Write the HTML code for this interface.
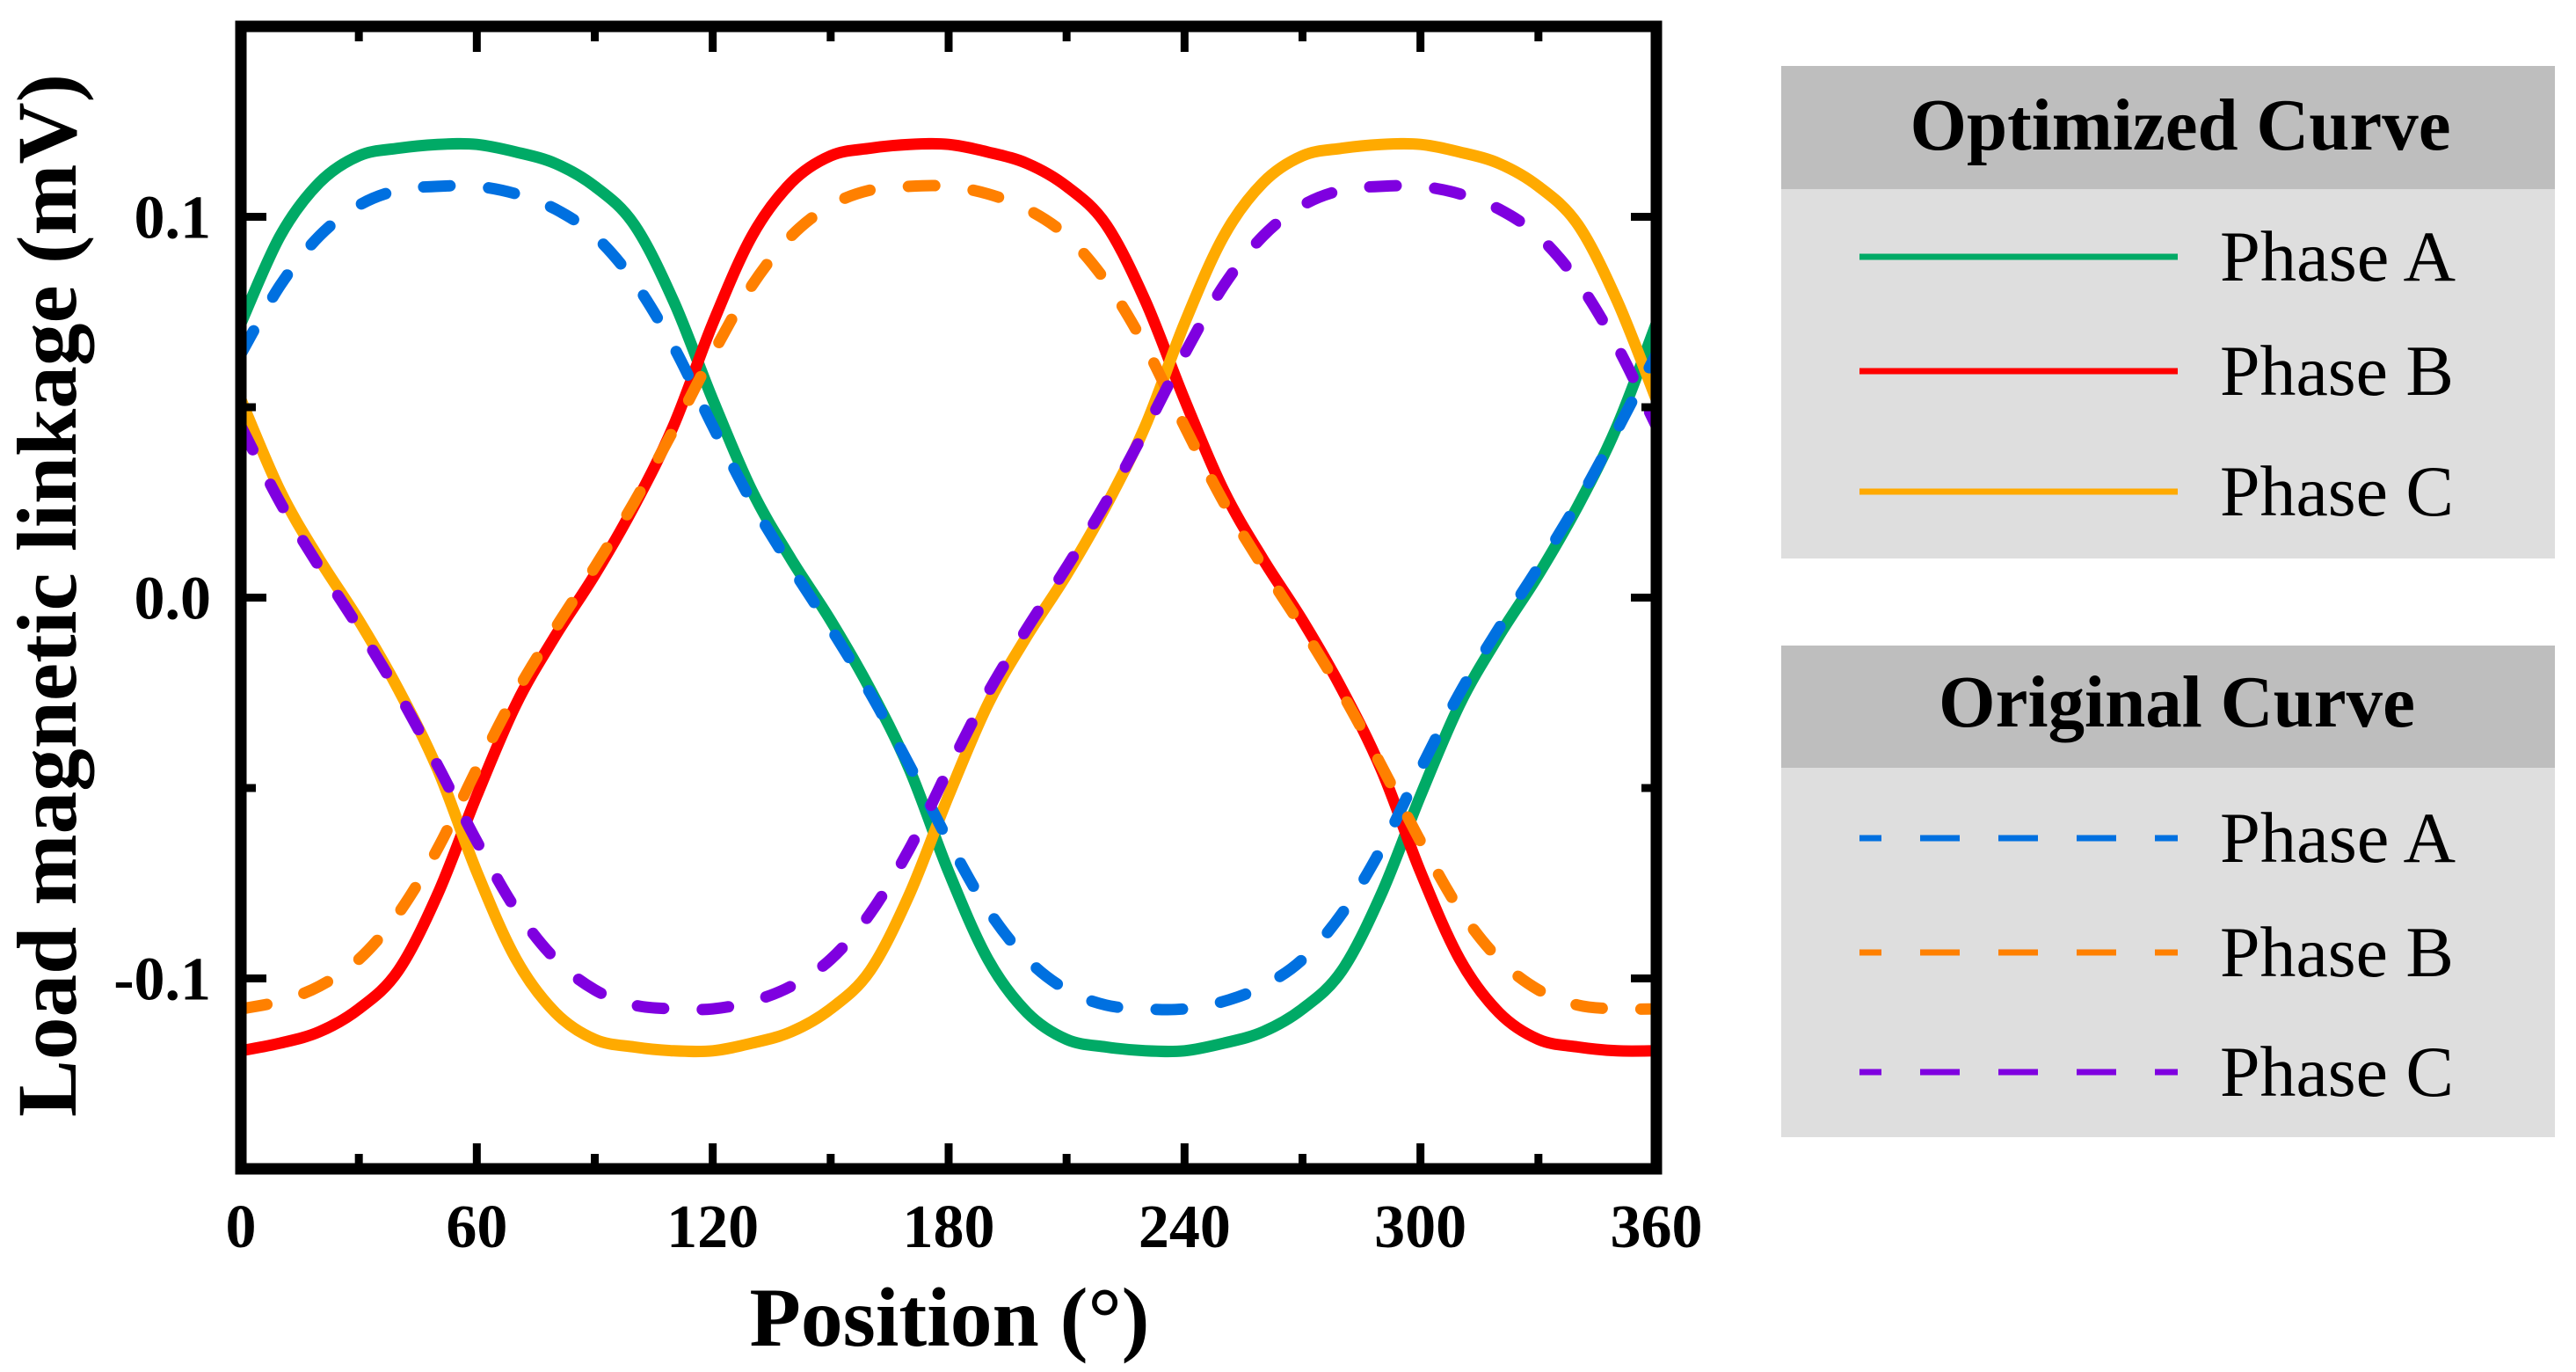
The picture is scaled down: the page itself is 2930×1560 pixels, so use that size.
<!DOCTYPE html>
<html><head><meta charset="utf-8"><style>
html,body{margin:0;padding:0;background:#fff}
svg{display:block}
text{font-family:"Liberation Serif","Times New Roman",serif}
</style></head><body>
<svg id="chart" width="2930" height="1560" viewBox="0 0 2930 1560" xmlns="http://www.w3.org/2000/svg">
<defs><clipPath id="clip"><rect x="274" y="30" width="1610" height="1299"/></clipPath></defs>
<g id="series" clip-path="url(#clip)"></g>
<g id="axes"></g>
<text x="1080" y="1530" font-size="95" font-weight="bold" text-anchor="middle" textLength="455" lengthAdjust="spacingAndGlyphs">Position (°)</text>
<text transform="translate(86,677) rotate(-90)" font-size="96" font-weight="bold" text-anchor="middle" textLength="1186" lengthAdjust="spacingAndGlyphs">Load magnetic linkage (mV)</text>

<g>
<rect x="2026" y="75" width="880" height="140" fill="#bebebe"/>
<rect x="2026" y="215" width="880" height="420" fill="#dedede"/>
<text x="2480" y="170" font-size="84" font-weight="bold" text-anchor="middle" textLength="615" lengthAdjust="spacingAndGlyphs">Optimized Curve</text>
<g><line x1="2115" x2="2477" y1="292" y2="292" stroke="#00aa66" stroke-width="7"/><text x="2525" y="319" font-size="82" textLength="268" lengthAdjust="spacingAndGlyphs">Phase A</text></g>
<g><line x1="2115" x2="2477" y1="422" y2="422" stroke="#ff0000" stroke-width="7"/><text x="2525" y="449" font-size="82" textLength="266" lengthAdjust="spacingAndGlyphs">Phase B</text></g>
<g><line x1="2115" x2="2477" y1="559" y2="559" stroke="#ffaa00" stroke-width="7"/><text x="2525" y="586" font-size="82" textLength="266" lengthAdjust="spacingAndGlyphs">Phase C</text></g>
</g>
<g>
<rect x="2026" y="734" width="880" height="139" fill="#bebebe"/>
<rect x="2026" y="873" width="880" height="420" fill="#dedede"/>
<text x="2476" y="826" font-size="84" font-weight="bold" text-anchor="middle" textLength="542" lengthAdjust="spacingAndGlyphs">Original Curve</text>
<g><line x1="2115" x2="2477" y1="953" y2="953" stroke="#0070e0" stroke-width="7" stroke-dasharray="25 44 45 44 45 44 45 44 45"/><text x="2525" y="980" font-size="82" textLength="268" lengthAdjust="spacingAndGlyphs">Phase A</text></g>
<g><line x1="2115" x2="2477" y1="1083" y2="1083" stroke="#ff8000" stroke-width="7" stroke-dasharray="25 44 45 44 45 44 45 44 45"/><text x="2525" y="1110" font-size="82" textLength="266" lengthAdjust="spacingAndGlyphs">Phase B</text></g>
<g><line x1="2115" x2="2477" y1="1219" y2="1219" stroke="#7f00e0" stroke-width="7" stroke-dasharray="25 44 45 44 45 44 45 44 45"/><text x="2525" y="1246" font-size="82" textLength="266" lengthAdjust="spacingAndGlyphs">Phase C</text></g>
</g>
</svg>
<script>
const positions = [0,10,20,30,40,50,60,70,80,90,100,110,120,130,140,150,160,170,180,190,200,210,220,230,240,250,260,270,280,290,300,310,320,330,340,350,360];
const optA = [0.072,0.095,0.109,0.116,0.118,0.119,0.119,0.117,0.114,0.108,0.098,0.078,0.052,0.028,0.010,-0.006,-0.024,-0.045,-0.072,-0.095,-0.109,-0.116,-0.118,-0.119,-0.119,-0.117,-0.114,-0.108,-0.098,-0.078,-0.052,-0.028,-0.010,0.006,0.024,0.045,0.072];
const optB = [-0.119,-0.117,-0.114,-0.108,-0.098,-0.078,-0.052,-0.028,-0.010,0.006,0.024,0.045,0.072,0.095,0.109,0.116,0.118,0.119,0.119,0.117,0.114,0.108,0.098,0.078,0.052,0.028,0.010,-0.006,-0.024,-0.045,-0.072,-0.095,-0.109,-0.116,-0.118,-0.119,-0.119];
const optC = [0.052,0.028,0.010,-0.006,-0.024,-0.045,-0.072,-0.095,-0.109,-0.116,-0.118,-0.119,-0.119,-0.117,-0.114,-0.108,-0.098,-0.078,-0.052,-0.028,-0.010,0.006,0.024,0.045,0.072,0.095,0.109,0.116,0.118,0.119,0.119,0.117,0.114,0.108,0.098,0.078,0.052];
const origA = [0.064,0.082,0.095,0.103,0.107,0.108,0.108,0.106,0.102,0.095,0.083,0.066,0.045,0.025,0.008,-0.008,-0.025,-0.044,-0.064,-0.082,-0.095,-0.103,-0.107,-0.108,-0.108,-0.106,-0.102,-0.095,-0.083,-0.066,-0.045,-0.025,-0.008,0.008,0.025,0.044,0.064];
const origB = [-0.108,-0.106,-0.102,-0.095,-0.083,-0.066,-0.045,-0.025,-0.008,0.008,0.025,0.044,0.064,0.082,0.095,0.103,0.107,0.108,0.108,0.106,0.102,0.095,0.083,0.066,0.045,0.025,0.008,-0.008,-0.025,-0.044,-0.064,-0.082,-0.095,-0.103,-0.107,-0.108,-0.108];
const origC = [0.045,0.025,0.008,-0.008,-0.025,-0.044,-0.064,-0.082,-0.095,-0.103,-0.107,-0.108,-0.108,-0.106,-0.102,-0.095,-0.083,-0.066,-0.045,-0.025,-0.008,0.008,0.025,0.044,0.064,0.082,0.095,0.103,0.107,0.108,0.108,0.106,0.102,0.095,0.083,0.066,0.045];
const xTicks = [0,60,120,180,240,300,360];
const xTickLabels = ["0","60","120","180","240","300","360"];
const xMinor = [30,90,150,210,270,330];
const yTicks = [-0.1,0,0.1];
const yTickLabels = ["-0.1","0.0","0.1"];
const yMinor = [-0.05,0.05];

const NS = "http://www.w3.org/2000/svg";
const X0=274, X1=1884, Y0=1329, Y1=30, XMIN=0, XMAX=360, YMIN=-0.15, YMAX=0.15;
function xs(v){return X0+(v-XMIN)/(XMAX-XMIN)*(X1-X0);}
function ys(v){return Y0-(v-YMIN)/(YMAX-YMIN)*(Y0-Y1);}
function mk(tag, attrs, parent){const e=document.createElementNS(NS,tag);for(const k in attrs)e.setAttribute(k,attrs[k]);parent.appendChild(e);return e;}

function pathFor(vals){
  const p = positions.map((d,i)=>[xs(d),ys(vals[i])]);
  let s = "M"+p[0][0].toFixed(1)+","+p[0][1].toFixed(1);
  for(let i=0;i<p.length-1;i++){
    const a=p[Math.max(i-1,0)], b=p[i], c=p[i+1], d=p[Math.min(i+2,p.length-1)];
    const c1=[b[0]+(c[0]-a[0])/6, b[1]+(c[1]-a[1])/6];
    const c2=[c[0]-(d[0]-b[0])/6, c[1]-(d[1]-b[1])/6];
    s+=" C"+c1[0].toFixed(1)+","+c1[1].toFixed(1)+" "+c2[0].toFixed(1)+","+c2[1].toFixed(1)+" "+c[0].toFixed(1)+","+c[1].toFixed(1);
  }
  return s;
}
const sg = document.getElementById("series");
function drawSeries(vals, color, dashed, name){
  const el = mk("path",{d:pathFor(vals),fill:"none",stroke:color,"stroke-width":13,"stroke-linecap":dashed?"round":"butt","stroke-linejoin":"round"},sg);
  if(dashed) el.setAttribute("stroke-dasharray","30 44");
  
  
}
drawSeries(optA,"#00aa66",false,"line-optimized-phase-a");
drawSeries(optB,"#ff0000",false,"line-optimized-phase-b");
drawSeries(optC,"#ffaa00",false,"line-optimized-phase-c");
drawSeries(origA,"#0070e0",true,"line-original-phase-a");
drawSeries(origB,"#ff8000",true,"line-original-phase-b");
drawSeries(origC,"#7f00e0",true,"line-original-phase-c");

const ax = document.getElementById("axes");
const frame = mk("rect",{x:X0,y:Y1,width:X1-X0,height:Y0-Y1,fill:"none",stroke:"#000","stroke-width":13},ax);


function tickX(v,len){
  const x=xs(v);
  mk("line",{x1:x,x2:x,y1:Y0,y2:Y0-len,stroke:"#000","stroke-width":9},ax);
  mk("line",{x1:x,x2:x,y1:Y1,y2:Y1+len,stroke:"#000","stroke-width":9},ax);
}
function tickY(v,len){
  const y=ys(v);
  mk("line",{x1:X0,x2:X0+len,y1:y,y2:y,stroke:"#000","stroke-width":9},ax);
  mk("line",{x1:X1,x2:X1-len,y1:y,y2:y,stroke:"#000","stroke-width":9},ax);
}
xTicks.forEach((v,i)=>{
  tickX(v,29);
  const t = mk("text",{x:xs(v),y:1418,"font-size":70,"font-weight":"bold","text-anchor":"middle"},ax);
  t.textContent = xTickLabels[i];
  
  
});
xMinor.forEach(v=>tickX(v,17));
yTicks.forEach((v,i)=>{
  tickY(v,29);
  const t = mk("text",{x:240,y:ys(v)+24,"font-size":70,"font-weight":"bold","text-anchor":"end"},ax);
  t.textContent = yTickLabels[i];
  
  
});
yMinor.forEach(v=>tickY(v,17));
</script>
</body></html>
